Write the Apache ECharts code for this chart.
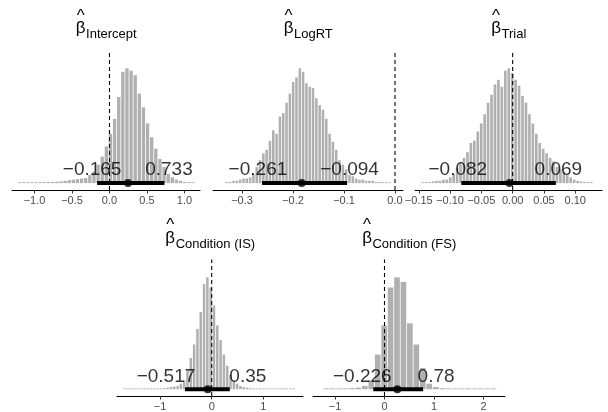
<!DOCTYPE html>
<html><head><meta charset="utf-8">
<script src="https://cdn.jsdelivr.net/npm/echarts@6/dist/echarts.min.js"></script>
<style>html,body{margin:0;padding:0;background:#fff}#c{width:608px;height:412px}</style>
</head><body><div id="c"></div>
<script>
// ---------- data ----------
const panelNames = ['Intercept', 'LogRT', 'Trial', 'Condition (IS)', 'Condition (FS)'];
const intervalLower = [-0.165, -0.261, -0.082, -0.517, -0.226];
const intervalUpper = [0.733, -0.094, 0.069, 0.35, 0.78];
const pointEstimate = [0.247, -0.183, -0.005, -0.077, 0.26];
const lowerLabels = ['−0.165', '−0.261', '−0.082', '−0.517', '−0.226'];
const upperLabels = ['0.733', '−0.094', '0.069', '0.35', '0.78'];
const referenceValue = [0, 0, 0, 0, 0];

const ticksIntercept = [-1.0, -0.5, 0, 0.5, 1.0];
const ticksLogRT = [-0.3, -0.2, -0.1, 0];
const ticksTrial = [-0.15, -0.10, -0.05, 0, 0.05, 0.10];
const ticksIS = [-1, 0, 1];
const ticksFS = [-1, 0, 1, 2];

// histogram bins (left edge of first bin, bin width) and bar heights (% of tallest bar)
const binStart = [-1.2245, -0.333, -0.1465, -1.716, -1.242];
const binWidth = [0.055, 0.0065, 0.0055, 0.064, 0.13];
const countsIntercept = [0.8,0.8,0.8,0.8,0.8,0.8,0.8,1,1,1.2,1.5,2,2.5,3,3.5,4,4.5,7,10,16,23,32,43,56,75,97,100,98,94,78,66,52,40,30,21,14,8,5,3,2,1,0.8,0.8];
const countsLogRT = [1,1,2,2,3,4,4,5,8,14,20,26,29,37,46,43,58,61,70,78,88,92,100,97,87,84,83,74,68,64,56,43,36,29,20,16,12,7,6,4,3,3,2,2,2,1,1,1,0.8,0.8];
const countsTrial = [0.8,1,1,1.5,2,2,3,3,5,8,13,18,22,27,35,37,45,52,60,70,77,86,90,84,98,100,96,90,85,76,70,60,52,43,35,30,26,22,19,14,12,10,7,5,3,2,1.5,1,0.8,0.8];
const countsIS = [0.8,0.8,0.8,0.8,0.8,0.8,0.8,0.8,0.8,0.8,0.8,0.8,1,1.5,2,2.5,3,5,8,17,28,40,54,69,94,100,91,75,57,44,31,21,13,8,5,3,2,1.5,1,0.8,0.8,0.8,0.8,0.8,0.8,0.8,0.8,0.8,0.8,0.8,0.8,0.8];
const countsFS = [0.8,0.8,0.8,0.8,1,1.5,3,8,31,57,91,100,96,59,40,19,5,2,1,0.8,0.8,0.8,0.8,0.8,0.8,0.8,0.8];

const panelTicks = [ticksIntercept, ticksLogRT, ticksTrial, ticksIS, ticksFS];
const panelCounts = [countsIntercept, countsLogRT, countsTrial, countsIS, countsFS];

// ---------- layout (pixels) ----------
const layout = [
  {left: 12,  right: 200, top: 50,  bottom: 190, min: -1.3,   max: 1.207,  dec: 1, dl: -5,  du: 4.5},
  {left: 213, right: 403, top: 50,  bottom: 190, min: -0.357, max: 0.0157, dec: 1, dl: -4,  du: 2.5},
  {left: 415, right: 602, top: 50,  bottom: 190, min: -0.156, max: 0.1427, dec: 2, dl: -3.5, du: 2.5},
  {left: 117, right: 303, top: 259.5, bottom: 399.5, min: -1.832, max: 1.766, dec: 0, dl: -19, du: 18},
  {left: 313, right: 505, top: 259.5, bottom: 399.5, min: -1.444, max: 2.434, dec: 0, dl: -11, du: 13}
];
const YMIN = -6, YMAX = 116;
const FONT = '"Liberation Sans", Arial, Helvetica, sans-serif';

function fmt(v, dec) {
  const s = Math.abs(v).toFixed(dec);
  return (v < -1e-9 ? '−' : '') + s;
}

const grids = [], xAxes = [], yAxes = [], series = [], graphics = [];

const mc = document.createElement('canvas').getContext('2d');
function measure(t, size) { mc.font = size + 'px ' + FONT; return mc.measureText(t).width; }

layout.forEach((L, i) => {
  grids.push({left: L.left, top: L.top, width: L.right - L.left, height: L.bottom - L.top, containLabel: false});
  xAxes.push({
    type: 'value', gridIndex: i, min: L.min, max: L.max,
    axisLine: {show: true, onZero: false, lineStyle: {color: '#000', width: 1}},
    axisTick: {show: true, length: 3.5, customValues: panelTicks[i], lineStyle: {color: '#333', width: 1}},
    axisLabel: {show: true, customValues: panelTicks[i], color: '#4d4d4d', fontSize: 11, fontFamily: FONT, margin: 5,
      formatter: (v) => fmt(v, L.dec)},
    splitLine: {show: false}
  });
  yAxes.push({type: 'value', gridIndex: i, min: YMIN, max: YMAX, show: false});

  const bins = panelCounts[i].map((c, k) => [binStart[i] + k * binWidth[i], binStart[i] + (k + 1) * binWidth[i], c]);
  series.push({
    type: 'custom', xAxisIndex: i, yAxisIndex: i, data: bins, encode: {x: [0, 1], y: 2},
    renderItem: function (params, api) {
      const p0 = api.coord([api.value(0), api.value(2)]);
      const p1 = api.coord([api.value(1), 0]);
      const g = 0.4;
      return {type: 'rect', shape: {x: p0[0] + g, y: p0[1], width: Math.max(p1[0] - p0[0] - 2 * g, 0.5), height: Math.max(p1[1] - p0[1], 0.8)},
        style: {fill: '#b0b0b0'}};
    },
    silent: true
  });
  series.push({
    type: 'line', xAxisIndex: i, yAxisIndex: i, data: [[referenceValue[i], YMIN], [referenceValue[i], YMAX]],
    symbol: 'none', lineStyle: {color: '#000', width: 1.1, type: [4, 3]}, silent: true, animation: false
  });
  series.push({
    type: 'line', xAxisIndex: i, yAxisIndex: i, data: [[intervalLower[i], 0], [intervalUpper[i], 0]],
    symbol: 'none', lineStyle: {color: '#000', width: 4, cap: 'butt'}, silent: true, animation: false
  });
  series.push({
    type: 'scatter', xAxisIndex: i, yAxisIndex: i, data: [[pointEstimate[i], 0]],
    symbol: 'circle', symbolSize: 8, itemStyle: {color: '#000'}, silent: true, animation: false
  });
  series.push({
    type: 'scatter', xAxisIndex: i, yAxisIndex: i, symbolSize: 0, silent: true, animation: false, z: 10,
    data: [
      {value: [intervalLower[i], 0], label: {formatter: lowerLabels[i], offset: [L.dl, i < 3 ? -13 : -12.5]}},
      {value: [intervalUpper[i], 0], label: {formatter: upperLabels[i], offset: [L.du, i < 3 ? -13 : -12.5]}}
    ],
    label: {show: true, position: 'inside', color: '#000', fontSize: 19, fontFamily: FONT}
  });

  // title: hat(beta) with subscript
  const cx = (L.left + L.right) / 2;
  const oy = i < 3 ? 0 : 209.5;
  const bw = measure('β', 17), sw = measure(panelNames[i], 13);
  const x0 = cx - (bw + sw) / 2;
  graphics.push({type: 'text', x: x0, y: 28.8 + oy, style: {text: 'β', font: '17px ' + FONT, fill: '#000', align: 'left', verticalAlign: 'middle'}});
  graphics.push({type: 'text', x: x0 + bw / 2, y: 16.1 + oy, style: {text: '^', font: '17px ' + FONT, fill: '#000', align: 'center', verticalAlign: 'middle'}});
  graphics.push({type: 'text', x: x0 + bw + 0.5, y: 34.5 + oy, style: {text: panelNames[i], font: '13px ' + FONT, fill: '#000', align: 'left', verticalAlign: 'middle'}});
});

const chart = echarts.init(document.getElementById('c'), null, {renderer: 'canvas'});
chart.setOption({
  animation: false,
  backgroundColor: '#fff',
  grid: grids, xAxis: xAxes, yAxis: yAxes, series: series, graphic: graphics
});
</script></body></html>
